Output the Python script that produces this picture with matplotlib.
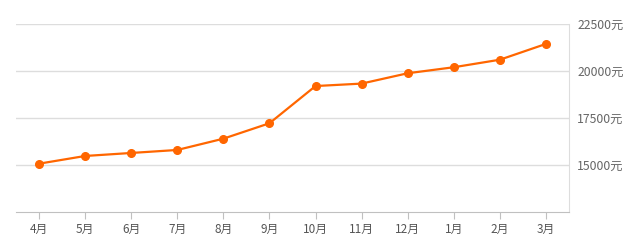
import matplotlib
matplotlib.use("Agg")
import matplotlib.pyplot as plt

plt.rcParams['font.family'] = ['Noto Sans CJK SC', 'DejaVu Sans']

# monthly price data
months = ['4月', '5月', '6月', '7月', '8月', '9月', '10月', '11月', '12月', '1月', '2月', '3月']
prices = [15070, 15480, 15640, 15800, 16400, 17220, 19200, 19330, 19880, 20200, 20600, 21440]
yticks = [15000, 17500, 20000, 22500]

fig = plt.figure(figsize=(6.4, 2.49), dpi=100)
ax = fig.add_axes([0.025, 0.1486, 0.864, 0.755])

x = range(len(months))
ax.plot(x, prices, color='#ff6600', lw=1.6, marker='o', ms=5.5, zorder=3)

ax.set_xlim(-0.5, len(months) - 0.5)
ax.set_ylim(12500, 22500)
ax.set_xticks(list(x))
ax.set_xticklabels(months)
ax.set_yticks(yticks)
ax.set_yticklabels([f'{v}元' for v in yticks])
ax.yaxis.tick_right()

ax.grid(axis='y', color='#dddddd', lw=1)
ax.set_axisbelow(True)
for s in ['top', 'left']:
    ax.spines[s].set_visible(False)
ax.spines['right'].set_color('#dddddd')
ax.spines['bottom'].set_color('#c0c0c0')
ax.tick_params(axis='x', colors='#c0c0c0', length=5, labelcolor='#555555', labelsize=8.5, pad=3)
ax.tick_params(axis='y', length=0, labelcolor='#666666', labelsize=8.8, pad=6)

fig.savefig('out.png', dpi=100)
